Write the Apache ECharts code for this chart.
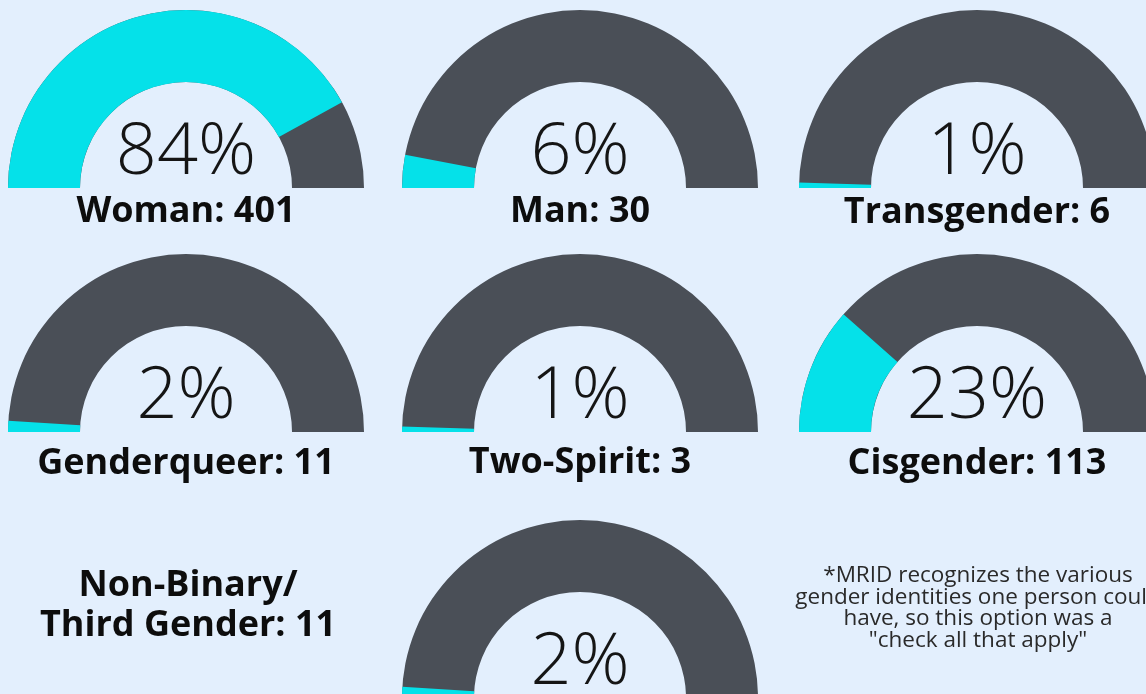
<!DOCTYPE html>
<html>
<head>
<meta charset="utf-8">
<script src="https://cdn.jsdelivr.net/npm/echarts@6/dist/echarts.min.js"></script>
<style>
  html, body { margin: 0; padding: 0; background: #e3effd; }
  #genderChart { width: 1146px; height: 694px; }
</style>
</head>
<body>
<div id="genderChart"></div>
<script>
// 性别认同数据: 人数 + 百分比
var genderData = [
  { name: 'Woman', count: 401, pct: 84, center: [186, 188], titleY: 24 },
  { name: 'Man', count: 30, pct: 6, center: [580, 188], titleY: 24 },
  { name: 'Transgender', count: 6, pct: 1, center: [977, 188], titleY: 25 },
  { name: 'Genderqueer', count: 11, pct: 2, center: [186, 432], titleY: 32 },
  { name: 'Two-Spirit', count: 3, pct: 1, center: [580, 432], titleY: 31 },
  { name: 'Cisgender', count: 113, pct: 23, center: [977, 432], titleY: 32 },
  { name: 'Non-Binary/Third Gender', count: 11, pct: 2, center: [580, 698], titleY: 200 }
]

var cyan = '#05e1e9'
var gray = '#4a4f57'

var series = genderData.map(function (item) {
  return {
    type: 'gauge',
    center: item.center,
    radius: 178,
    startAngle: 180,
    endAngle: 0,
    min: 0,
    max: 100,
    progress: { show: true, width: 72, roundCap: false, itemStyle: { color: cyan } },
    axisLine: { roundCap: false, lineStyle: { width: 72, color: [[1, gray]] } },
    pointer: { show: false },
    anchor: { show: false },
    axisTick: { show: false },
    splitLine: { show: false },
    axisLabel: { show: false },
    title: {
      show: item.titleY < 100,
      offsetCenter: [0, item.titleY],
      fontFamily: 'Open Sans',
      fontWeight: 'bold',
      fontSize: 36,
      color: '#0d0d0d'
    },
    detail: {
      valueAnimation: false,
      offsetCenter: [0, -35],
      formatter: '{value}%',
      fontFamily: 'Open Sans',
      fontWeight: 300,
      fontSize: 72,
      color: '#151515'
    },
    data: [{ value: item.pct, name: item.name + ': ' + item.count }]
  }
})

var chart = echarts.init(document.getElementById('genderChart'))
chart.setOption({
  backgroundColor: '#e3effd',
  animation: false,
  title: [
    {
      text: 'Non-Binary/\nThird Gender: 11',
      left: 183,
      top: 561,
      textAlign: 'center',
      textStyle: {
        fontFamily: 'Open Sans',
        fontWeight: 'bold',
        fontSize: 36,
        lineHeight: 40,
        color: '#0d0d0d'
      }
    },
    {
      text: '*MRID recognizes the various\ngender identities one person could\nhave, so this option was a\n"check all that apply"',
      left: 973,
      top: 560,
      textAlign: 'center',
      textStyle: {
        fontFamily: 'Open Sans',
        fontWeight: 'normal',
        fontSize: 22.5,
        lineHeight: 21.5,
        color: '#2a2a2a'
      }
    }
  ],
  series: series
})
</script>
</body>
</html>
